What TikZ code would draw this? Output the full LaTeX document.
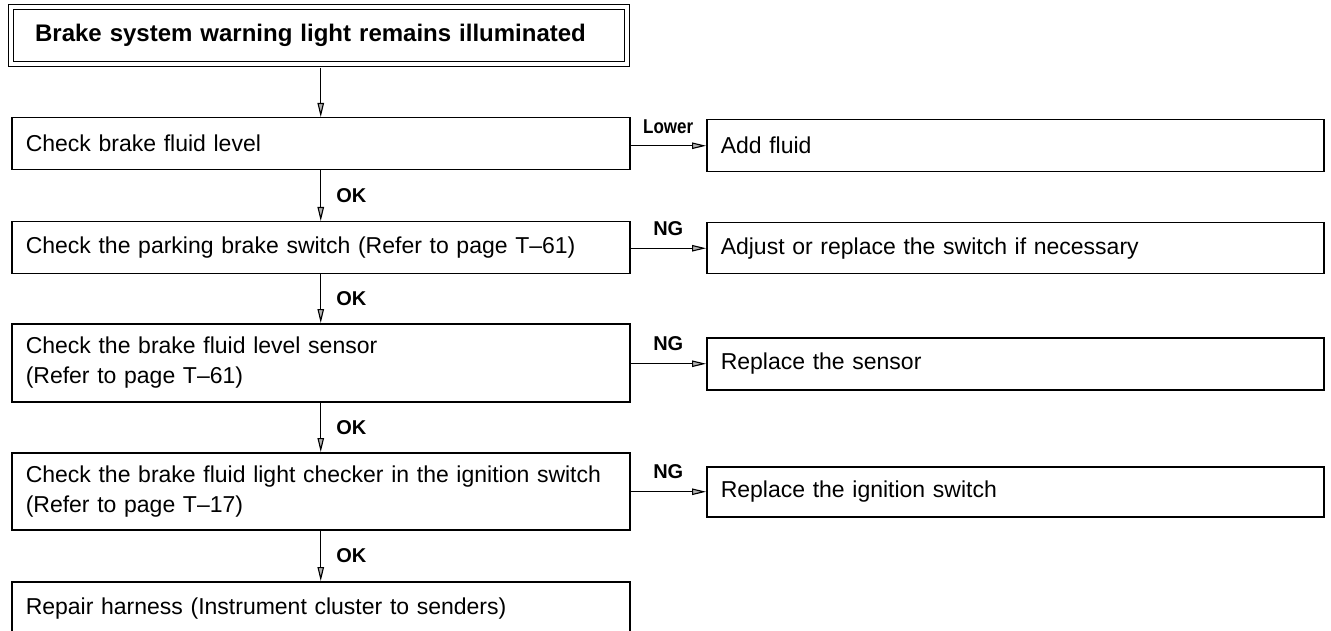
\documentclass[tikz,border=0pt]{standalone}
\usepackage{fontspec}
\setmainfont{Liberation Sans}
\usetikzlibrary{arrows.meta}
\tikzset{
  box/.style={draw, line width=1.5pt, anchor=north west, inner xsep=14pt, inner ysep=0pt,
    align=left, font=\fontsize{23}{30}\selectfont},
  lbox/.style={box, text width=590pt},
  rbox/.style={box, text width=589pt},
  titlebox/.style={draw, line width=1.2pt, double, double distance=3.5pt, anchor=north west,
    inner xsep=24pt, inner ysep=0pt, align=left, text width=568pt, minimum height=57pt,
    font=\fontsize{24}{28}\selectfont\bfseries},
  arr/.style={line width=1.1pt, -{Triangle[open, length=14pt, width=6.5pt, fill=gray!60]}},
  lab/.style={inner sep=0pt, font=\fontsize{20}{24}\selectfont\bfseries},
}
\begin{document}
\begin{tikzpicture}[x=1pt,y=-1pt]
\useasboundingbox (0,0) rectangle (1331,631);
\node[titlebox] (title) at (10.5,6.5) {Brake system warning light remains illuminated};

\node[lbox, minimum height=52pt] (b1) at (11,117) {Check brake fluid level};
\node[lbox, minimum height=52pt] (b2) at (11,221) {Check the parking brake switch (Refer to page T--61)};
\node[lbox, minimum height=78pt] (b3) at (11,323) {Check the brake fluid level sensor\\(Refer to page T--61)};
\node[lbox, minimum height=77pt] (b4) at (11,452) {Check the brake fluid light checker in the ignition switch\\(Refer to page T--17)};
\node[lbox, minimum height=54pt] (b5) at (11,581) {Repair harness (Instrument cluster to senders)};

\node[rbox, minimum height=52pt] (r1) at (706,119) {Add fluid};
\node[rbox, minimum height=51pt] (r2) at (706,222) {Adjust or replace the switch if necessary};
\node[rbox, minimum height=52pt] (r3) at (706,337) {Replace the sensor};
\node[rbox, minimum height=50pt] (r4) at (706,466) {Replace the ignition switch};

\draw[arr] ([yshift=-2.9pt]title.south -| b1.north) -- (b1.north);
\draw[arr] (b1.south) -- node[midway, anchor=west, xshift=15pt, lab] {OK} (b2.north);
\draw[arr] (b2.south) -- node[midway, anchor=west, xshift=15pt, lab] {OK} (b3.north);
\draw[arr] (b3.south) -- node[midway, anchor=west, xshift=15pt, lab] {OK} (b4.north);
\draw[arr] (b4.south) -- node[midway, anchor=west, xshift=15pt, lab] {OK} (b5.north);

\draw[arr] (b1.east |- r1.west) -- node[midway, yshift=19pt, lab] {\scalebox{0.85}[1]{Lower}} (r1.west);
\draw[arr] (b2.east |- r2.west) -- node[midway, yshift=20pt, lab] {NG} (r2.west);
\draw[arr] (b3.east |- r3.west) -- node[midway, yshift=20pt, lab] {NG} (r3.west);
\draw[arr] (b4.east |- r4.west) -- node[midway, yshift=20pt, lab] {NG} (r4.west);
\end{tikzpicture}
\end{document}
